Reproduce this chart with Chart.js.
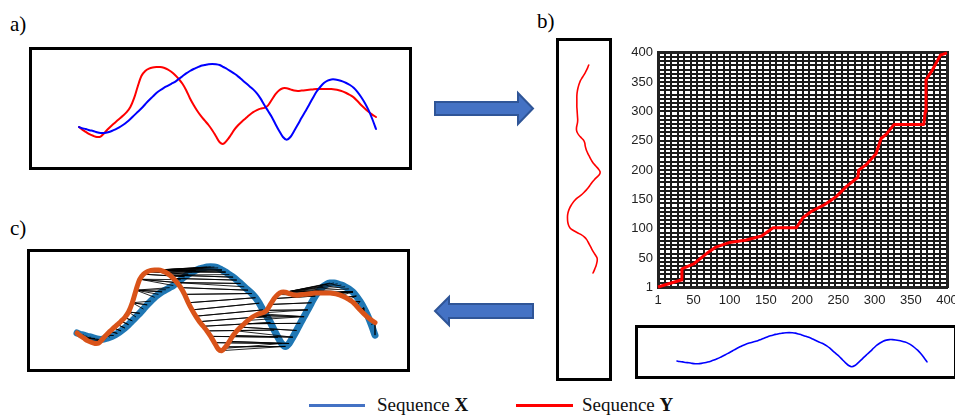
<!DOCTYPE html>
<html><head><meta charset="utf-8">
<script src="https://cdn.jsdelivr.net/npm/chart.js@4.4.1/dist/chart.umd.min.js"></script>
<style>
html,body{margin:0;padding:0;background:#fff;}
body{width:955px;height:416px;position:relative;overflow:hidden;font-family:'Liberation Serif','Times New Roman',serif;}
.lbl{position:absolute;font-size:21px;color:#000;line-height:1;}
.box{position:absolute;box-sizing:border-box;border:3px solid #000;}
canvas{position:absolute;}
.leg{position:absolute;font-size:19px;line-height:20px;color:#111;white-space:nowrap;}
.legline{position:absolute;height:3px;}
</style></head><body>

<div class="lbl" style="left:10px;top:14px;">a)</div>
<div class="lbl" style="left:537px;top:11px;">b)</div>
<div class="lbl" style="left:10px;top:218px;">c)</div>

<div class="box" style="left:29px;top:47px;width:383px;height:123px;"></div>
<div class="box" style="left:556px;top:38px;width:56px;height:343px;"></div>
<div class="box" style="left:635px;top:325px;width:322px;height:54px;"></div>
<div class="box" style="left:27px;top:249px;width:383px;height:123px;"></div>

<svg style="position:absolute;left:0;top:0;" width="955" height="416">
  <polygon points="435,102 518,102 518,93 533,108.5 518,124 518,115 435,115" fill="#4472C4" stroke="#2F5597" stroke-width="2"/>
  <polygon points="533,304 449,304 449,297 435,311 449,325 449,318 533,318" fill="#4472C4" stroke="#2F5597" stroke-width="2"/>
</svg>

<canvas id="ca" width="383" height="123" style="left:29px;top:47px;"></canvas>
<canvas id="cv" width="56" height="343" style="left:556px;top:38px;"></canvas>
<canvas id="cg" width="345" height="275" style="left:620px;top:40px;"></canvas>
<canvas id="cb" width="330" height="54" style="left:635px;top:325px;"></canvas>
<canvas id="cc" width="383" height="123" style="left:27px;top:249px;"></canvas>

<div class="legline" style="left:309px;top:404px;width:56px;background:#4472C4;"></div>
<div class="leg" style="left:377px;top:395px;">Sequence <b>X</b></div>
<div class="legline" style="left:516px;top:404px;width:57px;background:#FF0000;"></div>
<div class="leg" style="left:582px;top:395px;">Sequence <b>Y</b></div>

<script>
// ---- data ----
const timeSteps = [1,5,10,15,20,25,30,35,40,45,50,55,60,65,70,75,80,85,90,95,100,
  105,110,115,120,125,130,135,140,145,150,155,160,165,170,175,180,185,190,195,200,
  205,210,215,220,225,230,235,240,245,250,255,260,265,270,275,280,285,290,295,300,
  305,310,315,320,325,330,335,340,345,350,355,360,365,370,375,380,385,390,395,400];
const seqX = [0,-0.03,-0.05,-0.08,-0.10,-0.13,-0.15,-0.15,-0.13,-0.10,-0.06,-0.01,0.05,0.12,0.20,0.29,0.38,0.47,0.57,0.67,0.76,
  0.85,0.92,0.98,1.03,1.08,1.13,1.20,1.27,1.34,1.40,1.45,1.49,1.53,1.55,1.57,1.575,1.57,1.55,1.50,1.45,
  1.39,1.33,1.26,1.18,1.10,1.02,0.94,0.84,0.71,0.55,0.40,0.25,0.07,-0.10,-0.25,-0.32,-0.25,-0.10,0.06,0.23,
  0.39,0.55,0.72,0.88,1.00,1.10,1.16,1.19,1.19,1.17,1.14,1.10,1.05,0.98,0.88,0.75,0.60,0.42,0.20,-0.05];
const seqY = [0,-0.06,-0.12,-0.18,-0.22,-0.25,-0.24,-0.15,-0.05,0.04,0.12,0.20,0.28,0.37,0.50,0.72,1.02,1.28,1.40,1.46,1.49,
  1.50,1.50,1.48,1.44,1.38,1.30,1.20,1.08,0.92,0.72,0.55,0.40,0.27,0.16,0.05,-0.08,-0.23,-0.38,-0.42,-0.33,
  -0.20,-0.06,0.05,0.14,0.22,0.30,0.37,0.42,0.46,0.48,0.54,0.68,0.82,0.92,0.97,0.97,0.94,0.91,0.90,0.91,
  0.92,0.93,0.94,0.95,0.95,0.95,0.95,0.95,0.94,0.92,0.89,0.85,0.80,0.74,0.65,0.55,0.46,0.38,0.31,0.25];
// warping path (index in X, index in Y)
const pathX = [1,33,34,51,68,81,100,123,144,160,192,201,213,229,238,247,261,277,278,288,302,309,316,327,368,370,371,380,391,400];
const pathY = [1,13,32,41,58,69,77,81,88,102,102,119,130,140,147,155,172,188,200,209,228,254,261,278,278,300,354,371,396,400];
const axisTicks = [1,50,100,150,200,250,300,350,400];
const gridCols = 44, gridRows = 56;

// ---- helpers ----
const BLUE='#0000FF', RED='#FF0000', CBLUE='#1F77B4', CORANGE='#D95319';
function baseOpts(xr, yr, pad, xrev){
  return {responsive:false, animation:false, events:[],
    layout:{padding:pad},
    plugins:{legend:{display:false}, tooltip:{enabled:false}},
    scales:{x:{type:'linear', min:xr[0], max:xr[1], display:false, reverse:!!xrev},
            y:{type:'linear', min:yr[0], max:yr[1], display:false}}};
}
function lineDs(points, color, w, extra){
  return Object.assign({data:points, showLine:true, borderColor:color, backgroundColor:color,
    borderWidth:w, pointRadius:0, tension:0.3, clip:false, borderCapStyle:'round', borderJoinStyle:'round'}, extra||{});
}
const ptsX = timeSteps.map((t,i)=>({x:t, y:seqX[i]}));
const ptsY = timeSteps.map((t,i)=>({x:t, y:seqY[i]}));
const AMP = [-0.75, 1.75];

// a) raw sequences
new Chart(document.getElementById('ca'), {type:'scatter',
  data:{datasets:[lineDs(ptsX, BLUE, 2), lineDs(ptsY, RED, 2)]},
  options:baseOpts([1,400], AMP, {left:50, right:36, top:10, bottom:13})});

// b) sequence Y rotated (time upward, amplitude to the left)
new Chart(document.getElementById('cv'), {type:'scatter',
  data:{datasets:[lineDs(timeSteps.map((t,i)=>({x:seqY[i], y:t})), RED, 1.6)]},
  options:baseOpts([-1,2], [1,400], {left:3, right:2, top:27, bottom:108}, true)});

// b) sequence X below grid
new Chart(document.getElementById('cb'), {type:'scatter',
  data:{datasets:[lineDs(ptsX, BLUE, 1.6)]},
  options:baseOpts([1,400], AMP, {left:42, right:38, top:4.5, bottom:4.5})});

// b) warping path on grid
function evenTicks(n){ const a=[]; for(let k=0;k<=n;k++) a.push({value:1+k*399/n}); return a; }
const lblFont = {family:"'Liberation Sans', Arial, sans-serif", size:13};
new Chart(document.getElementById('cg'), {type:'scatter',
  data:{datasets:[{data:pathX.map((x,i)=>({x:x, y:pathY[i]})), showLine:true, borderColor:RED,
     borderWidth:3, pointRadius:0, tension:0, clip:false, borderJoinStyle:'round'}]},
  options:{responsive:false, animation:false, events:[],
    layout:{padding:{left:0, right:18, top:11, bottom:0}},
    plugins:{legend:{display:false}, tooltip:{enabled:false}},
    scales:{
      x:{type:'linear', min:1, max:400, position:'bottom',
         afterBuildTicks:ax=>{ax.ticks=axisTicks.map(v=>({value:v}));},
         afterFit:ax=>{ax.height=28;},
         ticks:{font:lblFont, color:'#222', padding:6, maxRotation:0, autoSkip:false},
         grid:{display:false, drawTicks:false}, border:{display:true, color:'#222', width:3}},
      y:{type:'linear', min:1, max:400, position:'left',
         afterBuildTicks:ax=>{ax.ticks=axisTicks.map(v=>({value:v}));},
         afterFit:ax=>{ax.width=38;},
         ticks:{font:lblFont, color:'#222', padding:5, autoSkip:false},
         grid:{display:false, drawTicks:false}, border:{display:true, color:'#222', width:3}},
      xg:{type:'linear', min:1, max:400, position:'top', axis:'x',
         afterBuildTicks:ax=>{ax.ticks=evenTicks(gridCols);},
         ticks:{display:false}, grid:{color:'#1a1a1a', lineWidth:2, drawTicks:false},
         border:{display:true, color:'#222', width:3}},
      yg:{type:'linear', min:1, max:400, position:'right', axis:'y',
         afterBuildTicks:ax=>{ax.ticks=evenTicks(gridRows);},
         ticks:{display:false}, grid:{color:'#1a1a1a', lineWidth:2, drawTicks:false},
         border:{display:true, color:'#222', width:3}}
    }}});

// c) aligned sequences with DTW links (each sample joined to its match on the path)
function mapPath(t, from, to){
  for(let k=1;k<from.length;k++){
    if(t<=from[k]){ const a=from[k-1], b=from[k]; const f=(b===a)?0:(t-a)/(b-a); return to[k-1]+f*(to[k]-to[k-1]); }
  }
  return to[to.length-1];
}
function nearestIdx(t){ let best=0; timeSteps.forEach((s,i)=>{ if(Math.abs(s-t)<Math.abs(timeSteps[best]-t)) best=i; }); return best; }
const links=[];
timeSteps.forEach((t,i)=>{ const j=nearestIdx(mapPath(t,pathX,pathY));
  links.push({x:t,y:seqX[i]},{x:timeSteps[j],y:seqY[j]},{x:t,y:null}); });
timeSteps.forEach((t,j)=>{ const i=nearestIdx(mapPath(t,pathY,pathX));
  links.push({x:timeSteps[i],y:seqX[i]},{x:t,y:seqY[j]},{x:t,y:null}); });

new Chart(document.getElementById('cc'), {type:'scatter',
  data:{datasets:[
    lineDs(ptsY, CORANGE, 5, {order:0}),
    {data:links, showLine:true, borderColor:'rgba(0,0,0,0.85)', borderWidth:1, pointRadius:0, tension:0, spanGaps:false, clip:false, order:1},
    lineDs(ptsX, CBLUE, 7, {order:2})
  ]},
  options:baseOpts([1,400], AMP, {left:50, right:35, top:10.5, bottom:7.5})});
</script>
</body></html>
